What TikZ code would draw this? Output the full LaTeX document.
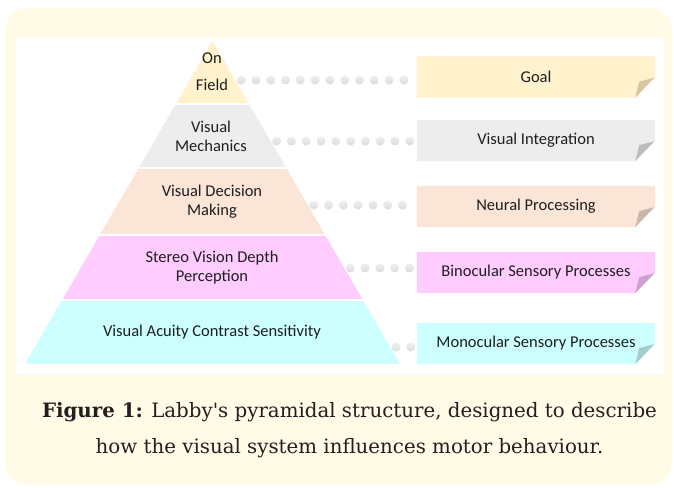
\documentclass[tikz,border=0pt]{standalone}
\usepackage{fontspec}
\setmainfont{DejaVu Serif}
\newfontfamily\calib{Carlito}
% caption fonts loaded directly, so the apostrophe stays straight
\font\capfnt="DejaVu Serif" at 19.8pt
\font\capbf="DejaVu Serif/B" at 19.8pt
\usetikzlibrary{decorations.markings}

\definecolor{cream}{HTML}{FFFBE6}
\definecolor{txt}{HTML}{1E1E1E}
\definecolor{captxt}{HTML}{231F20}
\definecolor{cYel}{HTML}{FFF2CC}\definecolor{fYel}{HTML}{D6C7A1}
\definecolor{cGry}{HTML}{EDEDED}\definecolor{fGry}{HTML}{BDBDBD}
\definecolor{cPch}{HTML}{FBE5D6}\definecolor{fPch}{HTML}{C9B7AB}
\definecolor{cPnk}{HTML}{FFCCFF}\definecolor{fPnk}{HTML}{CCA3CC}
\definecolor{cCyn}{HTML}{CCFFFF}\definecolor{fCyn}{HTML}{A3CCCC}

\tikzset{
  tiertxt/.style={font=\calib\fontsize{16.5}{18.5}\selectfont, text=txt, align=center, inner sep=0pt},
  labelbox/.style={minimum width=238pt, minimum height=41pt, inner sep=0pt,
    font=\calib\fontsize{16.5}{18}\selectfont, text=txt},
  captext/.style={font=\capfnt, text=captxt, anchor=base, inner sep=0pt},
  bead/.style={shading=axis, top color=gray!12, middle color=gray!52, bottom color=gray!28},
  beadrow/.style={decorate, decoration={markings,
      mark=between positions 6pt and -5pt step 14.8pt with {\shade[bead] (0,0) circle (4.5pt);}}},
}

% folded-corner label: fill colour #1, fold colour #2, node name #3
\newcommand{\foldbox}[3]{%
  \fill[#1] (#3.north west) -- (#3.north east) -- ([yshift=20pt]#3.south east)
    -- ([xshift=-20pt]#3.south east) -- (#3.south west) -- cycle;
  \fill[#2] ([yshift=20pt,xshift=-1pt]#3.south east) -- ([xshift=-16pt,yshift=16pt]#3.south east)
    -- ([xshift=-20pt]#3.south east) -- cycle;}

\begin{document}
\begin{tikzpicture}[x=1pt,y=-1pt]
\useasboundingbox (0,0) rectangle (674,487);

% panel and drawing area
\fill[cream, rounded corners=22pt] (5,8) rectangle (672,484);
\fill[white] (16,38) rectangle (664,375);

% pyramid tiers
\begin{scope}
  \clip (212.5,41) -- (400,364) -- (25,364) -- cycle;
  \fill[cYel] (0,30)  rectangle (674,103);
  \fill[cGry] (0,105) rectangle (674,167);
  \fill[cPch] (0,169) rectangle (674,234);
  \fill[cPnk] (0,236) rectangle (674,299);
  \fill[cCyn] (0,301) rectangle (674,364);
\end{scope}

\node[tiertxt] (t1) at (212,72) {On\\[8.5pt]Field};
\node[tiertxt] (t2) at (211,136.5) {Visual\\Mechanics};
\node[tiertxt] (t3) at (212,201.5) {Visual Decision\\Making};
\node[tiertxt] (t4) at (212,267.5) {Stereo Vision Depth\\Perception};
\node[tiertxt] (t5) at (212,332) {Visual Acuity Contrast Sensitivity};

% labels on the right
\node[labelbox] (b1) at (536,77)    {};
\node[labelbox] (b2) at (536,140.5) {};
\node[labelbox] (b3) at (536,206.5) {};
\node[labelbox] (b4) at (536,272.5) {};
\node[labelbox] (b5) at (536,343.5) {};
\foldbox{cYel}{fYel}{b1}
\foldbox{cGry}{fGry}{b2}
\foldbox{cPch}{fPch}{b3}
\foldbox{cPnk}{fPnk}{b4}
\foldbox{cCyn}{fCyn}{b5}
\node[labelbox] at (b1) {Goal};
\node[labelbox] at (b2) {Visual Integration};
\node[labelbox] at (b3) {Neural Processing};
\node[labelbox] at (b4) {Binocular Sensory Processes};
\node[labelbox] at (b5) {Monocular Sensory Processes};

% points on the pyramid's right side where the bead rows start
\coordinate (e1) at (235.1,80);
\coordinate (e2) at (270.6,141);
\coordinate (e3) at (307.7,205);
\coordinate (e4) at (344.3,268);
\coordinate (e5) at (390.1,347);

\path[beadrow] (e1) -- (b1.west |- e1);
\path[beadrow] (e2) -- (b2.west |- e2);
\path[beadrow] (e3) -- (b3.west |- e3);
\path[beadrow] (e4) -- (b4.west |- e4);
\path[beadrow] (e5) -- (b5.west |- e5);

% caption
\node[captext] (cap1) at (349.5,417) {{\capbf Figure 1:} Labby's pyramidal structure, designed to describe};
\node[captext] (cap2) at (349.5,453) {how the visual system influences motor behaviour.};
\end{tikzpicture}
\end{document}
